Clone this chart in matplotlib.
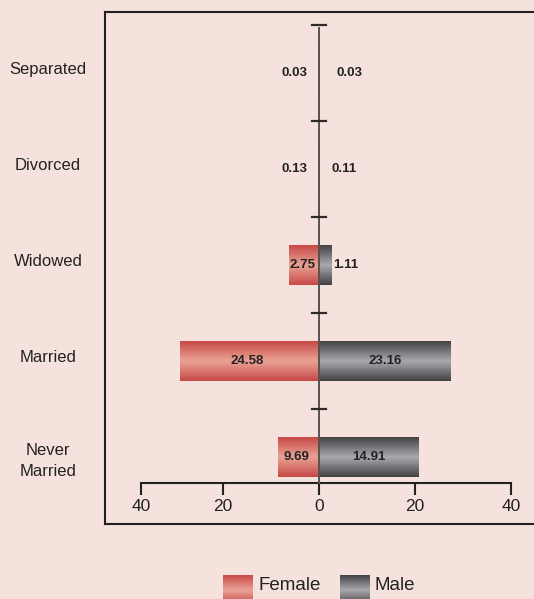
"""Marital status by sex, butterfly bar chart with gradient bars."""

import numpy as np
import matplotlib
matplotlib.use('Agg')
import matplotlib.pyplot as plt
from matplotlib.colors import LinearSegmentedColormap
from matplotlib.lines import Line2D
from matplotlib.transforms import blended_transform_factory

# =============================================================================
# Data (bottom to top)
categories = ["Never\nMarried", "Married", "Widowed", "Divorced", "Separated"]
female_labels = ["9.69", "24.58", "2.75", "0.13", "0.03"]
male_labels = ["14.91", "23.16", "1.11", "0.11", "0.03"]
# bar lengths as drawn in the picture (they do not follow the printed values)
female_bars = [8.5, 29.0, 6.25, 0.13, 0.03]
male_bars = [20.8, 27.4, 2.65, 0.11, 0.03]

tick_pos = [-37.1, -20, 0, 20, 40]
tick_text = ["40", "20", "0", "20", "40"]

# =============================================================================
bg = '#f5e2dc'
female_edge, female_mid = '#c84a47', '#eaa396'
male_edge, male_mid = '#434345', '#a9aaae'
W, H = 534, 599

plt.rcParams['font.family'] = ['Liberation Sans', 'DejaVu Sans']


def gradient_cmap(edge, mid):
    return LinearSegmentedColormap.from_list('g', [edge, mid, edge])


def fill_gradient(ax, rect, edge, mid):
    x0, y0 = rect.get_x(), rect.get_y()
    x1, y1 = x0 + rect.get_width(), y0 + rect.get_height()
    grad = np.linspace(0, 1, 64).reshape(-1, 1)
    im = ax.imshow(grad, extent=(min(x0, x1), max(x0, x1), y0, y1), origin='lower',
                   aspect='auto', cmap=gradient_cmap(edge, mid), zorder=2,
                   interpolation='bicubic')
    im.set_clip_path(rect)


fig = plt.figure(figsize=(W / 100, H / 100), dpi=100, facecolor=bg)
ax = fig.add_axes([110 / W, 1 - 520 / H, 420 / W, 500 / H], facecolor='none')

y = np.arange(len(categories))
fbars = ax.barh(y, [-v for v in female_bars], height=0.41, color=female_edge, zorder=2)
mbars = ax.barh(y, male_bars, height=0.41, color=male_edge, zorder=2)
for r in fbars:
    fill_gradient(ax, r, female_edge, female_mid)
for r in mbars:
    fill_gradient(ax, r, male_edge, male_mid)

# centre line with separator caps
ax.plot([0, 0], [-0.271, 4.47], color='#5a5050', lw=1.4, zorder=3)
for yy in np.arange(0.5, 4.6, 1.0):
    ax.plot([-1.46, 1.46], [yy, yy], color='#2e2a2a', lw=1.6, zorder=3)

# value labels
lab_kw = dict(fontsize=9.5, fontweight='bold', color='#222222', va='center', zorder=4)
for i in range(len(categories)):
    if female_bars[i] > 5:
        ax.text(-female_bars[i] / 2 - 0.4, y[i], female_labels[i], ha='center', **lab_kw)
    else:
        ax.text(-2.5, y[i], female_labels[i], ha='right', **lab_kw)
    if male_bars[i] > 5:
        ax.text(male_bars[i] / 2, y[i], male_labels[i], ha='center', **lab_kw)
    elif male_bars[i] > 1:
        ax.text(male_bars[i] + 0.2, y[i], male_labels[i], ha='left', **lab_kw)
    else:
        off = 3.7 if i == 4 else 2.5
        ax.text(off, y[i], male_labels[i], ha='left', **lab_kw)

# category names, centred in the left margin
trans = blended_transform_factory(fig.transFigure, ax.transData)
for i, c in enumerate(categories):
    dy = -0.04 if "\n" in c else 0.04
    ax.text(48 / W, y[i] + dy, c, transform=trans, ha='center', va='center',
            fontsize=12, color='#222222', linespacing=1.5)

ax.set_xlim((110 - 319) / 4.8, (530 - 319) / 4.8)
ax.set_ylim(-0.656, 4.552)

for s in ['left', 'right', 'top']:
    ax.spines[s].set_visible(False)
ax.spines['bottom'].set_position(('data', -0.271))
ax.spines['bottom'].set_bounds(tick_pos[0], tick_pos[-1])
ax.spines['bottom'].set_linewidth(1.5)
ax.spines['bottom'].set_color('#222222')
ax.set_xticks(tick_pos)
ax.set_xticklabels(tick_text, fontsize=12.5, color='#222222')
ax.tick_params(axis='x', direction='out', length=8.6, width=1.5, color='#222222', pad=3)
ax.set_yticks([])

# frame around the plot (right side runs off the image)
frame_kw = dict(color='#222222', lw=1.5, transform=fig.transFigure)
xl, yt, yb = 105 / W, 1 - 12 / H, 1 - 524 / H
fig.add_artist(Line2D([xl, xl], [yb, yt], **frame_kw))
fig.add_artist(Line2D([xl, 1.01], [yt, yt], **frame_kw))
fig.add_artist(Line2D([xl, 1.01], [yb, yb], **frame_kw))

# legend
grad = np.linspace(0, 1, 64).reshape(-1, 1)
for x0, edge, mid, name, tx in [(223, female_edge, female_mid, "Female", 258),
                                (340, male_edge, male_mid, "Male", 374)]:
    sw = fig.add_axes([x0 / W, -6 / H, 30 / W, 30 / H])
    sw.imshow(grad, aspect='auto', cmap=gradient_cmap(edge, mid), origin='lower',
              interpolation='bicubic')
    sw.axis('off')
    fig.text(tx / W, 1 - 585 / H, name, fontsize=13.5, color='#222222',
             ha='left', va='center')

fig.savefig('out.png', dpi=100, facecolor=bg)
